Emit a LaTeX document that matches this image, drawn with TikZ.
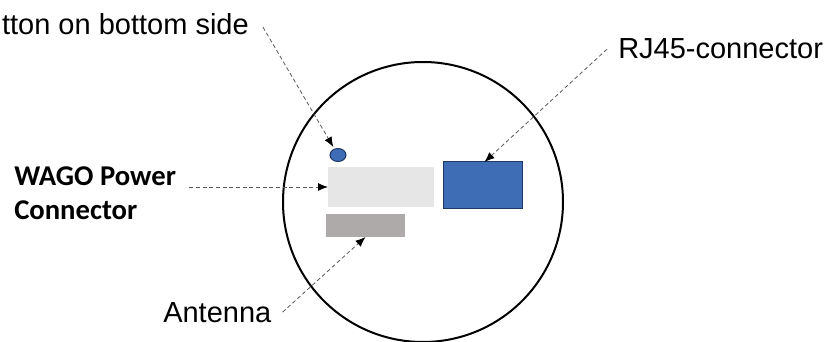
\documentclass[tikz,border=0pt]{standalone}
\usepackage{fontspec}
\setmainfont{Liberation Sans}
\newfontfamily\calibri{Carlito}
\usepackage{xcolor}
\usepackage{tikz}
\usetikzlibrary{positioning, arrows.meta, shapes.geometric}
\definecolor{partblue}{RGB}{62, 108, 181}
\definecolor{partedge}{RGB}{32, 56, 100}
\definecolor{plugface}{RGB}{231, 230, 230}
\definecolor{antgray}{RGB}{174, 170, 170}
\definecolor{leadgray}{RGB}{90, 90, 90}

\begin{document}
\begin{tikzpicture}[
    x=0.75pt, y=-0.75pt,
    housing/.style={draw=black, line width=1.5pt},
    part/.style={rectangle, inner sep=0pt, outer sep=0pt},
    label/.style={inner sep=0pt, font=\fontsize{21.75}{26}\selectfont},
    callout/.style={-{Latex[length=7.5pt, width=6pt, color=black]}, densely dashed, leadgray, line width=0.6pt}
]
    \useasboundingbox (0,0) rectangle (832,342);
    \draw[housing] (423,202) circle[radius=140];

    \node[ellipse, draw=partedge, fill=partblue, line width=0.75pt, inner sep=0pt, minimum width=12pt, minimum height=9.75pt] (btn) at (338,155) {};
    \node[part, fill=plugface, minimum width=79.5pt, minimum height=30pt] (wago) at (381,187) {};
    \node[part, draw=partedge, fill=partblue, line width=0.75pt, minimum width=59.25pt, minimum height=35.25pt] (rj) at (482.5,185.5) {};
    \node[part, fill=antgray, minimum width=59.25pt, minimum height=17.25pt] (ant) at (365.5,225.5) {};

    \node[label, anchor=base east] (btnlbl) at (249,35) {tton on bottom side};
    \node[label, anchor=base west] (rjlbl) at (618,59) {RJ45-connector};
    \node[label, anchor=base west] (antlbl) at (163,322) {Antenna};
    \node[inner sep=0pt, anchor=north west, align=left, font=\calibri\bfseries\fontsize{21.5}{25.5}\selectfont] (wagolbl) at (14,166) {WAGO Power\\Connector};

    \draw[callout, shorten >=1.5pt] ([xshift=10.5pt, yshift=-1.9pt]btnlbl.east) -- (btn);
    \draw[callout] ([xshift=-8.25pt]rjlbl.west) -- ([xshift=1.5pt]rj.north);
    \draw[callout, shorten <=9.75pt] (wagolbl.east |- wago.west) -- (wago.west);
    \draw[callout] ([xshift=8.25pt]antlbl.east) -- (ant.south);
\end{tikzpicture}
\end{document}
